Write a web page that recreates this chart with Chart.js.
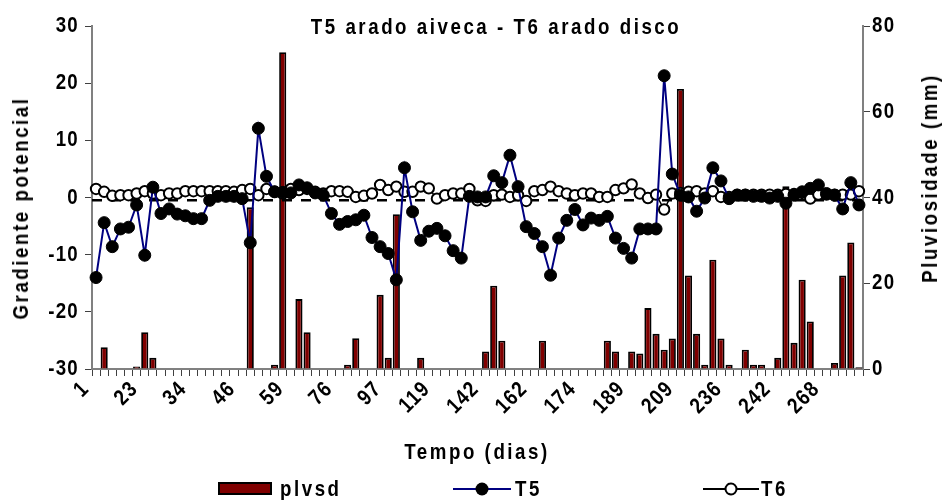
<!DOCTYPE html>
<html>
<head>
<meta charset="utf-8">
<script src="https://cdn.jsdelivr.net/npm/chart.js@4.4.1/dist/chart.umd.min.js"></script>
<style>
  html, body { margin: 0; padding: 0; background: #fff; }
  #wrap { position: relative; width: 944px; height: 500px; overflow: hidden; }
  #c { position: absolute; left: 0; top: 0; }
  .txt { position: absolute; font-family: Arial, "Liberation Sans", sans-serif; font-weight: bold;
         font-size: 22px; letter-spacing: 3px; color: #000; white-space: nowrap; line-height: 1; }
  .ctr { transform: translate(-50%,-50%) scaleX(0.85); }
  .vert { transform: translate(-50%,-50%) rotate(-90deg) scaleX(0.85); }
  .leg { transform-origin: left center; transform: translateY(-50%) scaleX(0.85); }
</style>
</head>
<body>
<div id="wrap">
  <canvas id="c" width="944" height="500"></canvas>
  <div class="txt ctr" style="left:496px; top:27px;">T5 arado aiveca - T6 arado disco</div>
  <div class="txt vert" style="left:21px; top:208px;">Gradiente potencial</div>
  <div class="txt vert" style="left:930px; top:178px;">Pluviosidade (mm)</div>
  <div class="txt ctr" style="left:477px; top:452px;">Tempo (dias)</div>
  <!-- legend -->
  <div style="position:absolute; left:218px; top:482px; width:54px; height:13px; background:#800000; border:2px solid #000; box-sizing:border-box;"></div>
  <div class="txt leg" style="left:280px; top:489px;">plvsd</div>
  <svg style="position:absolute; left:453px; top:477px;" width="60" height="24">
    <line x1="0" y1="12" x2="58" y2="12" stroke="#000080" stroke-width="2"/>
    <circle cx="29" cy="12" r="6.5" fill="#000"/>
  </svg>
  <div class="txt leg" style="left:515px; top:489px;">T5</div>
  <svg style="position:absolute; left:703px; top:477px;" width="58" height="24">
    <line x1="0" y1="12" x2="56" y2="12" stroke="#000" stroke-width="2"/>
    <circle cx="28" cy="12" r="5.5" fill="#fff" stroke="#000" stroke-width="2"/>
  </svg>
  <div class="txt leg" style="left:761px; top:489px;">T6</div>
</div>
<script>
// ---- data ----
const tickLabels = ['1','23','34','46','59','76','97','119','142','162','174','189','209','236','242','268'];
const labelEvery = 6;
const categoryCount = 95;

const T5 = [
  -14.0, -4.4, -8.6, -5.5, -5.2, -1.3, -10.1, 1.8, -2.8, -2.0,
  -2.9, -3.2, -3.7, -3.7, -0.5, 0.2, 0.2, 0.2, -0.2, -7.9,
  12.1, 3.7, 1.0, 0.9, 0.8, 2.2, 1.7, 0.8, 0.4, -2.8,
  -4.7, -4.2, -3.9, -3.1, -7.0, -8.6, -9.8, -14.4, 5.2, -2.5,
  -7.5, -5.9, -5.4, -6.7, -9.3, -10.6, 0.2, 0.1, 0.1, 3.8,
  2.6, 7.4, 1.9, -5.1, -6.3, -8.6, -13.6, -7.1, -4.0, -2.1,
  -4.8, -3.6, -4.0, -3.3, -7.1, -8.9, -10.6, -5.5, -5.5, -5.5,
  21.3, 4.1, 0.4, 0.1, -2.4, -0.1, 5.2, 2.9, -0.2, 0.4,
  0.4, 0.2, 0.2, -0.1, 0.2, -1.0, 0.4, 1.0, 1.6, 2.2,
  0.7, 0.4, -2.0, 2.6, -1.3
];

const T6 = [
  1.5, 1.0, 0.3, 0.4, 0.4, 0.7, 1.1, 0.7, 0.4, 0.7,
  0.7, 1.1, 1.1, 1.1, 1.1, 1.1, 1.1, 1.0, 1.3, 1.5,
  0.4, 1.5, 1.0, 0.7, 1.5, 1.3, 1.5, 1.0, 0.7, 1.1,
  1.1, 1.0, 0.1, 0.3, 0.7, 2.2, 1.3, 1.9, 1.0, 1.0,
  1.9, 1.6, -0.2, 0.4, 0.7, 0.7, 1.5, -0.5, -0.6, 0.4,
  0.5, 0.1, 0.4, -0.6, 1.1, 1.3, 1.9, 1.1, 0.7, 0.4,
  0.7, 0.7, 0.1, 0.1, 1.3, 1.6, 2.3, 0.7, -0.1, 0.5,
  -2.1, 0.7, 0.8, 1.0, 1.1, 0.7, 1.1, 0.1, 0.1, 0.5,
  0.5, 0.5, 0.5, 0.5, 0.5, 0.6, 0.6, 0.8, -0.2, 0.5,
  0.5, 0.5, 0.5, 0.5, 1.1
];

const plvsd = [
  0, 5.1, 0, 0, 0, 0.6, 8.6, 2.6, 0, 0,
  0, 0, 0, 0, 0, 0, 0, 0, 0, 37.7,
  0, 0, 1.0, 73.9, 0, 16.3, 8.6, 0, 0, 0,
  0, 1.0, 7.2, 0, 0, 17.3, 2.6, 36.1, 0, 0,
  2.6, 0, 0, 0, 0, 0, 0, 0, 4.1, 19.4,
  6.6, 0, 0, 0, 0, 6.6, 0, 0, 0, 0,
  0, 0, 0, 6.6, 4.1, 0, 4.1, 3.6, 14.2, 8.2,
  4.5, 7.1, 65.3, 21.8, 8.2, 1.0, 25.5, 7.1, 1.0, 0,
  4.5, 1.0, 1.0, 0, 2.6, 42.6, 6.1, 20.8, 11.1, 0,
  0, 1.4, 21.8, 29.5, 0.4
];

const refLineValue = -0.5;   // dashed horizontal line (left axis units)

const categories = Array.from({length: categoryCount}, (_, i) => String(i));

// ---- chart ----
const FONT = { family: "Arial, 'Liberation Sans', sans-serif", size: 22, weight: 'bold' };
const SQUEEZE = 0.85;

// condensed, slightly spaced canvas text (like the reference's rendering)
const textStylePlugin = {
  id: 'textStyle',
  beforeDraw(chart) {
    const ctx = chart.ctx;
    if (!ctx.__squeezed) {
      const orig = ctx.fillText;
      ctx.fillText = function (t, x, y, mw) {
        this.save();
        this.translate(x, y);
        this.scale(SQUEEZE, 1);
        if (mw === undefined) orig.call(this, t, 0, 0);
        else orig.call(this, t, 0, 0, mw / SQUEEZE);
        this.restore();
      };
      ctx.__squeezed = true;
    }
    ctx.letterSpacing = '1.5px';
  }
};

const refLinePlugin = {
  id: 'refLine',
  afterDatasetDraw(chart, args) {
    if (args.index !== 2) return;
    const ctx = chart.ctx, area = chart.chartArea;
    const y = chart.scales.y.getPixelForValue(refLineValue);
    ctx.save();
    ctx.setLineDash([10, 9]);
    ctx.strokeStyle = '#000';
    ctx.lineWidth = 2.5;
    ctx.beginPath();
    ctx.moveTo(area.left, y);
    ctx.lineTo(area.right, y);
    ctx.stroke();
    ctx.restore();
  }
};

function zeroPad(scale) {
  scale.paddingLeft = 0; scale.paddingRight = 0; scale.paddingTop = 0; scale.paddingBottom = 0;
}

new Chart(document.getElementById('c'), {
  type: 'bar',
  data: {
    labels: categories,
    datasets: [
      {
        type: 'line', label: 'T5', data: T5, yAxisID: 'y', order: 1,
        borderColor: '#000080', borderWidth: 2, tension: 0,
        pointRadius: 6, pointBorderWidth: 1, pointBackgroundColor: '#000', pointBorderColor: '#000'
      },
      {
        type: 'line', label: 'T6', data: T6, yAxisID: 'y', order: 2,
        borderColor: '#000', borderWidth: 1.5, tension: 0,
        pointRadius: 5.2, pointBorderWidth: 2, pointBackgroundColor: '#fff', pointBorderColor: '#000'
      },
      {
        type: 'bar', label: 'plvsd', data: plvsd, yAxisID: 'y1', order: 3,
        backgroundColor: '#800000', borderColor: '#000', borderWidth: 1.8,
        barPercentage: 0.88, categoryPercentage: 1.0
      }
    ]
  },
  options: {
    responsive: false,
    animation: false,
    devicePixelRatio: 1,
    layout: { padding: { top: 26, bottom: 71, left: 0, right: 0 } },
    plugins: { legend: { display: false }, title: { display: false }, tooltip: { enabled: false } },
    scales: {
      x: {
        type: 'category',
        offset: true,
        grid: { offset: true, drawOnChartArea: false, drawTicks: true, tickLength: 7, color: '#404040', lineWidth: 1 },
        border: { display: true, color: '#808080', width: 2 },
        ticks: {
          autoSkip: false, maxRotation: 45, minRotation: 45, color: '#000', font: FONT, padding: 0,
          labelOffset: -10,
          callback: (v, i) => (i % labelEvery === 0 ? tickLabels[i / labelEvery] : '')
        },
        afterFit(scale) { scale.height = 60; zeroPad(scale); }
      },
      y: {
        position: 'left', min: -30, max: 30,
        grid: { drawOnChartArea: false, drawTicks: true, tickLength: 7, color: '#404040', lineWidth: 1 },
        border: { display: true, color: '#808080', width: 2 },
        ticks: { stepSize: 10, color: '#000', font: FONT, padding: 6 },
        afterFit(scale) { scale.width = 92; zeroPad(scale); }
      },
      y1: {
        position: 'right', min: 0, max: 80,
        grid: { drawOnChartArea: false, drawTicks: true, tickLength: 7, color: '#404040', lineWidth: 1 },
        border: { display: true, color: '#808080', width: 2 },
        ticks: { stepSize: 20, color: '#000', font: FONT, padding: 2 },
        afterFit(scale) { scale.width = 81; zeroPad(scale); }
      }
    }
  },
  plugins: [textStylePlugin, refLinePlugin]
});
</script>
</body>
</html>
